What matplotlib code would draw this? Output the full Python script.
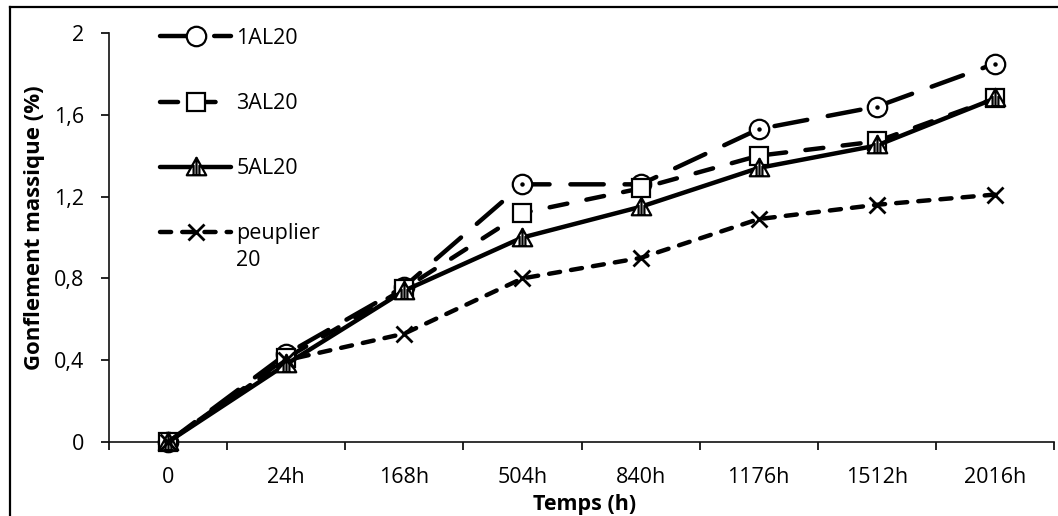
import numpy as np
import matplotlib
matplotlib.use("Agg")
import matplotlib.pyplot as plt
from matplotlib.path import Path
from matplotlib.lines import Line2D

# Swelling data (mass gain in %) over immersion time
categories = ["0", "24h", "168h", "504h", "840h", "1176h", "1512h", "2016h"]
s_1al20 = [0, 0.43, 0.76, 1.26, 1.26, 1.53, 1.64, 1.85]
s_3al20 = [0, 0.41, 0.75, 1.12, 1.24, 1.40, 1.47, 1.68]
s_5al20 = [0, 0.38, 0.74, 1.00, 1.15, 1.34, 1.45, 1.68]
s_peuplier = [0, 0.40, 0.53, 0.80, 0.90, 1.09, 1.16, 1.21]
series_names = ["1AL20", "3AL20", "5AL20", "peuplier"]
y_ticks = [0, 0.4, 0.8, 1.2, 1.6, 2.0]
y_ticklabels = ["0", "0,4", "0,8", "1,2", "1,6", "2"]

plt.rcParams["font.family"] = ["Open Sans", "DejaVu Sans"]
plt.rcParams["lines.scale_dashes"] = False
FS = 15.5

W, H = 1058, 516
fig = plt.figure(figsize=(W / 100, H / 100), dpi=100)
ax = fig.add_axes([109 / W, 1 - 442 / H, (1054 - 109) / W, (442 - 33) / H])

x = np.arange(len(categories))

# Triangle with vertical stripes inside
tri_verts = [(-1, -0.8), (0, 1), (1, -0.8), (-1, -0.8),
             (-0.3, -0.8), (-0.3, 0.25), (0, -0.8), (0, 1), (0.3, -0.8), (0.3, 0.25)]
tri_codes = [Path.MOVETO, Path.LINETO, Path.LINETO, Path.CLOSEPOLY,
             Path.MOVETO, Path.LINETO, Path.MOVETO, Path.LINETO, Path.MOVETO, Path.LINETO]
tri_marker = Path(tri_verts, tri_codes)

lw = 3.2
styles = [
    dict(marker="o", ms=14, dashes=(0, (24, 15))),
    dict(marker="s", ms=13.5, dashes=(0, (13, 14))),
    dict(marker=tri_marker, ms=14, dashes=None),
    dict(marker="x", ms=12, dashes=(0, (8, 8))),
]
values = [s_1al20, s_3al20, s_5al20, s_peuplier]

handles = []
for i, (vals, st) in enumerate(zip(values, styles)):
    z = 3 + i * 2
    ls = "-" if st["dashes"] is None else st["dashes"]
    ax.plot(x, vals, color="black", lw=lw, linestyle=ls,
            dash_capstyle="round", solid_capstyle="round", zorder=z)
    mew = 2.0 if st["marker"] == "x" else 1.6
    ax.plot(x, vals, linestyle="none", marker=st["marker"], ms=st["ms"],
            mfc="white", mec="black", mew=mew, zorder=z + 0.5, clip_on=False)
    if st["marker"] == "o":
        ax.plot(x, vals, linestyle="none", marker="o", ms=2.2, mfc="black",
                mec="black", zorder=z + 0.6, clip_on=False)
    handles.append(Line2D([], [], color="black", lw=lw, linestyle=ls,
                          dash_capstyle="round", solid_capstyle="round",
                          marker=st["marker"], ms=st["ms"], mfc="white",
                          mec="black", mew=mew))

ax.set_xlim(-0.5, len(categories) - 0.5)
ax.set_ylim(0, 2)

for side in ("top", "right"):
    ax.spines[side].set_visible(False)
for side in ("left", "bottom"):
    ax.spines[side].set_linewidth(1.2)
    ax.spines[side].set_color("#111111")

ax.set_xticks(x)
ax.set_xticklabels(categories)
ax.set_xticks(np.arange(-0.5, len(categories)), minor=True)
ax.tick_params(axis="x", which="major", length=0, pad=18, labelsize=FS)
ax.tick_params(axis="x", which="minor", length=6, width=1.2, direction="out")
ax.set_yticks(y_ticks)
ax.set_yticklabels(y_ticklabels)
ax.tick_params(axis="y", length=6, width=1.2, direction="out", pad=12, labelsize=FS)

ax.set_xlabel("Temps (h)", fontsize=FS, fontweight="bold")
ax.xaxis.label.set_va("baseline")
ax.xaxis.set_label_coords(0.503, -0.166)
ax.set_ylabel("Gonflement massique (%)", fontsize=FS + 0.5, fontweight="bold")
ax.yaxis.label.set_va("center")
ax.yaxis.set_label_coords(-0.079, 0.523)

leg = ax.legend(handles, series_names, loc="upper left",
                bbox_to_anchor=(160 / W, 1 - 28 / H), bbox_transform=fig.transFigure,
                frameon=False, fontsize=FS, handlelength=3.3, handletextpad=0.25,
                labelspacing=2.05, borderpad=0, borderaxespad=0)
ax.annotate("20", xy=(0, 0), xycoords=leg.get_texts()[-1], xytext=(0, -4),
            textcoords="offset points", ha="left", va="top", fontsize=FS, zorder=10)

# Outer frame of the figure (left and top edges)
fig.add_artist(Line2D([10 / W, 10 / W], [0, 1 - 7 / H], transform=fig.transFigure,
                      color="black", lw=1.6))
fig.add_artist(Line2D([10 / W, 1], [1 - 7 / H, 1 - 7 / H], transform=fig.transFigure,
                      color="black", lw=1.6))

fig.savefig("out.png", dpi=100)
